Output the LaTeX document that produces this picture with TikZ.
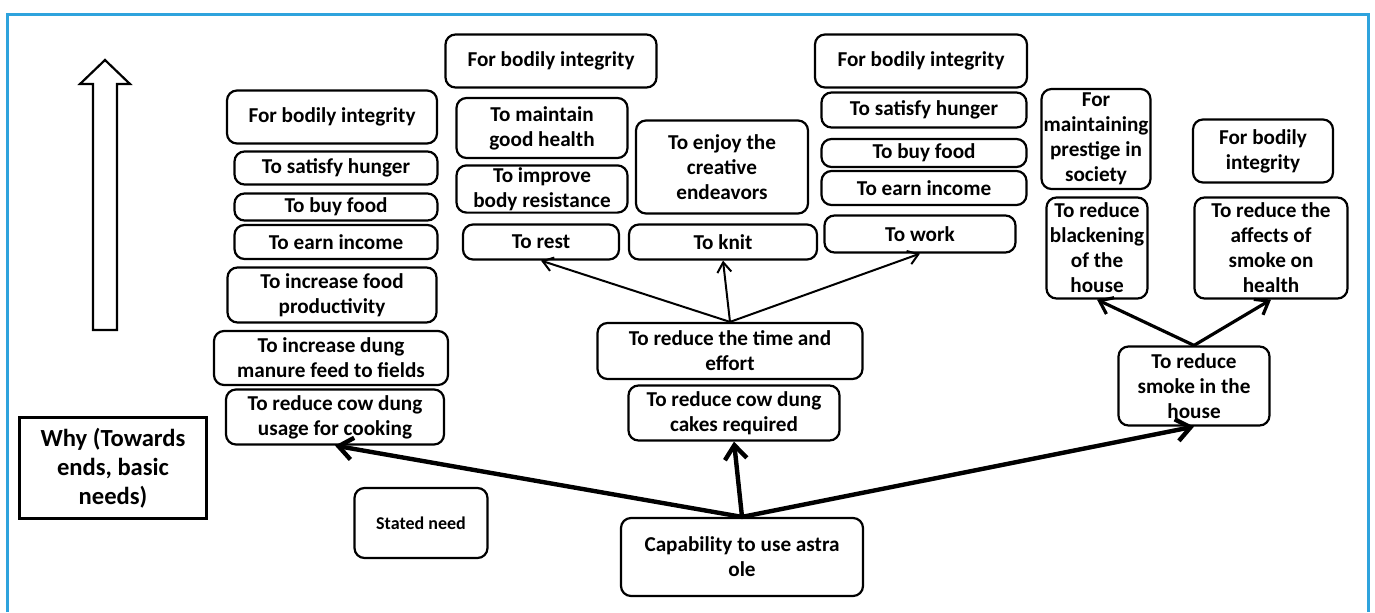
\documentclass[tikz,border=0pt]{standalone}
\usepackage{fontspec}
\setmainfont{Carlito}
\usepackage{tikz}
\usetikzlibrary{arrows.meta,positioning}
\definecolor{framecol}{RGB}{46,163,221}

\begin{document}
\begin{tikzpicture}
  [
    x=0.5pt, y=-0.5pt,
    every node/.style={align=center, inner sep=1pt, font=\bfseries\fontsize{10.6}{12.5}\selectfont},
    box/.style={draw, rounded corners=5pt, line width=1.1pt},
    whybox/.style={draw, line width=1.1pt, font=\bfseries\fontsize{12.3}{14.5}\selectfont},
    small/.style={font=\bfseries\fontsize{9}{11}\selectfont},
    big link/.style={-{Straight Barb[length=7pt,width=11pt]}, line width=2.2pt},
    mid link/.style={-{Straight Barb[length=6pt,width=9pt]}, line width=1.6pt},
    thin link/.style={-{Straight Barb[length=5pt,width=7pt]}, line width=1pt},
  ]
  \useasboundingbox (0,0) rectangle (1375,612);
  % \draw[help lines] grid(1375,612);
  \draw[framecol, line width=1.6pt] (7.5,612) -- (7.5,14.5) -- (1368.5,14.5) -- (1368.5,612);

  % why arrow
  \draw[line width=1.1pt] (93,330) -- (93,84) -- (80,84) -- (105,60) -- (130,84)
    -- (117,84) -- (117,330) -- cycle;
  \node [whybox, minimum width=93.5pt, minimum height=50.5pt] (why) at (113,468) {Why (Towards\\ends, basic\\needs)};
  \node [box, small, minimum width=66.5pt, minimum height=35pt] (stated) at (421,523) {Stated need};

  % left column
  \node [box, minimum width=105pt, minimum height=26.5pt] (lbi) at (332,117) {For bodily integrity};
  \node [box, minimum width=101.5pt, minimum height=16.5pt] (lsh) at (336,168) {To satisfy hunger};
  \node [box, minimum width=101.5pt, minimum height=13.5pt] (lbf) at (336,207) {To buy food};
  \node [box, minimum width=101.5pt, minimum height=17pt] (lei) at (336,242) {To earn income};
  \node [box, minimum width=104.5pt, minimum height=27.5pt] (lfp) at (332,295) {To increase food\\productivity};
  \node [box, minimum width=117pt, minimum height=27pt] (ldm) at (331,358) {To increase dung\\manure feed to fields};
  \node [box, minimum width=109pt, minimum height=27.5pt] (lcd) at (335,417) {To reduce cow dung\\usage for cooking};

  % middle column
  \node [box, minimum width=105.5pt, minimum height=26.5pt] (mbi) at (551,61) {For bodily integrity};
  \node [box, minimum width=85.5pt, minimum height=30pt] (mgh) at (542,128) {To maintain\\good health};
  \node [box, minimum width=85.5pt, minimum height=23pt] (mbr) at (542,189) {To improve\\body resistance};
  \node [box, minimum width=86pt, minimum height=46.5pt] (mce) at (722,167) {To enjoy the\\creative\\endeavors};
  \node [box, minimum width=78pt, minimum height=17.5pt] (mrest) at (541,242) {To rest};
  \node [box, minimum width=94pt, minimum height=17.5pt] (mknit) at (723,242) {To knit};
  \node [box, minimum width=132.5pt, minimum height=28pt] (mte) at (730,351) {To reduce the time and\\effort};
  \node [box, minimum width=105.5pt, minimum height=27.5pt] (mcc) at (734,413) {To reduce cow dung\\cakes required};
  \node [box, minimum width=121pt, minimum height=39pt] (cap) at (742,557) {Capability to use astra\\ole};

  % work column
  \node [box, minimum width=106pt, minimum height=26.5pt] (rbi) at (921,61) {For bodily integrity};
  \node [box, minimum width=102.5pt, minimum height=17.5pt] (rsh) at (924,110) {To satisfy hunger};
  \node [box, minimum width=102.5pt, minimum height=14pt] (rbf) at (924,153) {To buy food};
  \node [box, minimum width=102.5pt, minimum height=17pt] (rei) at (924,188) {To earn income};
  \node [box, minimum width=95.5pt, minimum height=18.5pt] (rwork) at (920,234) {To work};

  % smoke column
  \node [box, minimum width=51.5pt, minimum height=50pt] (smp) at (1096,139) {For\\maintaining\\prestige in\\society};
  \node [box, minimum width=70pt, minimum height=31.5pt] (sbi) at (1263,151) {For bodily\\integrity};
  \node [box, minimum width=50.5pt, minimum height=50.5pt] (sbh) at (1097,248) {To reduce\\blackening\\of the\\house};
  \node [box, minimum width=76.5pt, minimum height=50.5pt] (ssh) at (1271,248) {To reduce the\\affects of\\smoke on\\health};
  \node [box, minimum width=75.5pt, minimum height=39.5pt] (ssm) at (1194,386) {To reduce\\smoke in the\\house};

  \draw [big link] (cap.north) -- (lcd.south);
  \draw [big link] (cap.north) -- (mcc.south);
  \draw [big link] (cap.north) -- (ssm.south);
  \draw [thin link] (mte.north) -- (mrest.south);
  \draw [thin link] (mte.north) -- (mknit.south);
  \draw [thin link] (mte.north) -- (rwork.south);
  \draw [mid link] (ssm.north) -- (sbh.south);
  \draw [mid link] (ssm.north) -- (ssh.south);
\end{tikzpicture}
\end{document}
